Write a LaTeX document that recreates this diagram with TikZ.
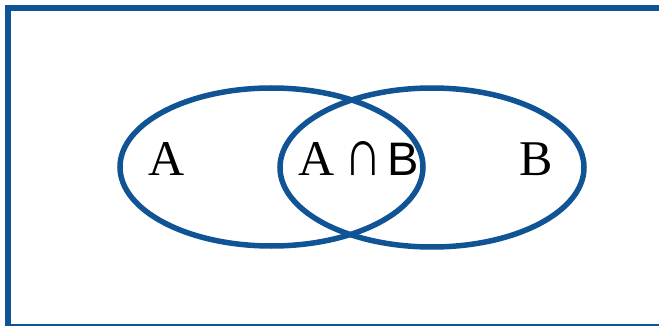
\documentclass[tikz,border=0pt]{standalone}
\usepackage{fontspec}
\usepackage{graphicx}
\setmainfont{Liberation Serif}
\newfontfamily\labsans{Liberation Sans}
\definecolor{vennblue}{RGB}{16,84,150}
\begin{document}
\begin{tikzpicture}[x=1pt,y=-1pt,
  setline/.style={draw=vennblue,line width=5.5pt},
  lab/.style={font=\fontsize{50}{50}\selectfont,inner sep=0pt,anchor=base}]
\useasboundingbox (0,0) rectangle (659,326);
\draw[setline] (8,8) rectangle (680,327);
\draw[setline] (271.5,167) ellipse [x radius=151.5,y radius=79];
\draw[setline] (432,167.5) ellipse [x radius=152,y radius=79.5];
\node[lab] (a) at (167,176) {A};
\node[lab] (ab) at (359,176) {A\hspace{9pt}\scalebox{1.05}[1.35]{\labsans ∩}\hspace{6pt}{\fontsize{47}{47}\selectfont\labsans B}};
\node[lab] (b) at (536,176) {B};
\end{tikzpicture}
\end{document}
